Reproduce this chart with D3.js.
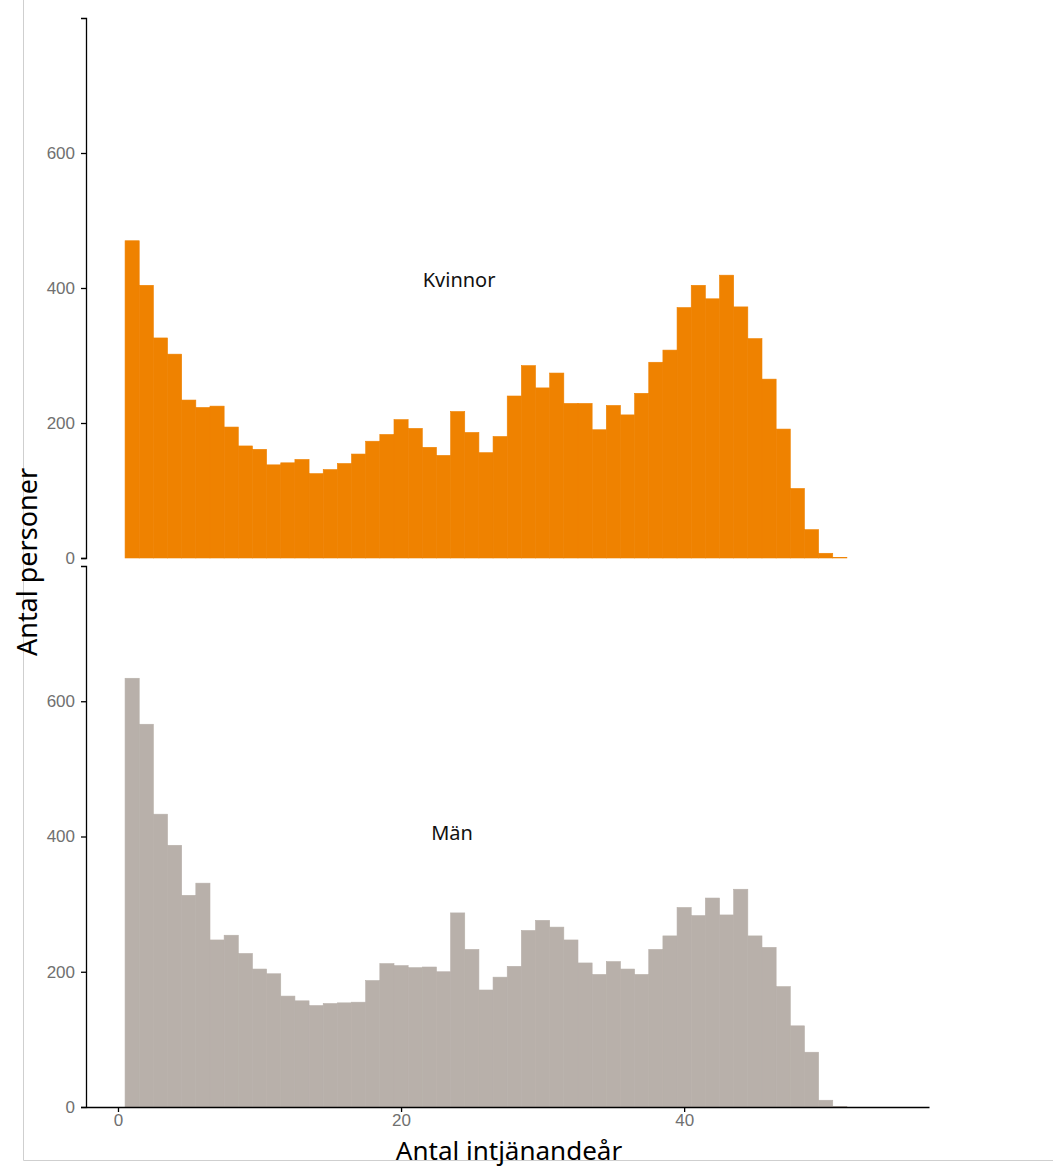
<!DOCTYPE html>
<html>
<head>
<meta charset="utf-8">
<script src="https://cdn.jsdelivr.net/npm/d3@7"></script>
<style>
  body { margin: 0; background: #fff; }
  svg { display: block; font-family: "Noto Sans", sans-serif; }
  .axis text { fill: #707070; font-size: 17px; }
  .axis path, .axis line { stroke: #000; stroke-width: 1.3; }
</style>
</head>
<body>
<svg width="1053" height="1168"></svg>
<script>
// antal intjänandeår, bins 1..51
var years = d3.range(1, 52);

var kvinnor = [470, 404, 326, 302, 234, 223, 225, 194, 166, 161,
               138, 141, 146, 125, 131, 140, 154, 173, 183, 205,
               192, 164, 152, 217, 186, 156, 180, 240, 285, 252,
               274, 229, 229, 190, 226, 212, 244, 290, 308, 371,
               404, 384, 419, 372, 325, 265, 191, 103, 42, 7, 1];

var man = [634, 566, 433, 387, 313, 331, 247, 254, 227, 204,
           197, 164, 157, 150, 153, 154, 155, 187, 212, 209,
           206, 207, 200, 287, 233, 173, 192, 208, 261, 276,
           266, 247, 213, 196, 215, 204, 196, 233, 253, 295,
           283, 309, 284, 322, 253, 236, 178, 120, 81, 10, 1];

var yTicks = [0, 200, 400, 600];
var xTicks = [0, 20, 40];

var panels = [
  {label: "Kvinnor", values: kvinnor, color: "#ef8200", top: 18, bottom: 558, labelX: 24.1, labelY: 410},
  {label: "Män", values: man, color: "#b8b0aa", top: 566, bottom: 1107, labelX: 23.6, labelY: 403}
];

var svg = d3.select("svg");

// light frame
svg.append("path")
    .attr("d", "M23.5,0 V1160.5 H1053")
    .attr("fill", "none")
    .attr("stroke", "#cfcfcf");

var x = d3.scaleLinear().domain([-2.26, 57.3]).range([86, 929]);

panels.forEach(function(p, k) {
  var y = d3.scaleLinear().domain([0, 800]).range([p.bottom, p.top]);
  var g = svg.append("g");

  g.selectAll("rect")
    .data(p.values)
    .enter().append("rect")
      .attr("x", function(d, i) { return x(years[i] - 0.5); })
      .attr("width", function(d, i) { return x(years[i] + 0.5) - x(years[i] - 0.5); })
      .attr("y", function(d) { return y(d); })
      .attr("height", function(d) { return y(0) - y(d); })
      .attr("fill", p.color)
      .attr("stroke", p.color)
      .attr("stroke-width", 0.6);

  g.append("g")
      .attr("class", "axis")
      .attr("transform", "translate(86,0)")
      .call(d3.axisLeft(y).tickValues(yTicks).tickSize(5).tickSizeOuter(5).tickPadding(6));

  g.append("text")
      .attr("x", x(p.labelX))
      .attr("y", y(p.labelY))
      .attr("text-anchor", "middle")
      .attr("dominant-baseline", "middle")
      .style("font-size", "20px")
      .style("fill", "#111")
      .text(p.label);

  if (k == 1) {
    g.append("g")
        .attr("class", "axis")
        .attr("transform", "translate(0," + p.bottom + ")")
        .call(d3.axisBottom(x).tickValues(xTicks).tickSize(5).tickSizeOuter(0).tickPadding(2));
  }
});

svg.append("text")
    .attr("x", 509)
    .attr("y", 1160)
    .attr("text-anchor", "middle")
    .style("font-size", "26px")
    .style("fill", "#000")
    .text("Antal intjänandeår");

svg.append("text")
    .attr("transform", "translate(37,562) rotate(-90)")
    .attr("text-anchor", "middle")
    .style("font-size", "27px")
    .style("fill", "#000")
    .text("Antal personer");
</script>
</body>
</html>
